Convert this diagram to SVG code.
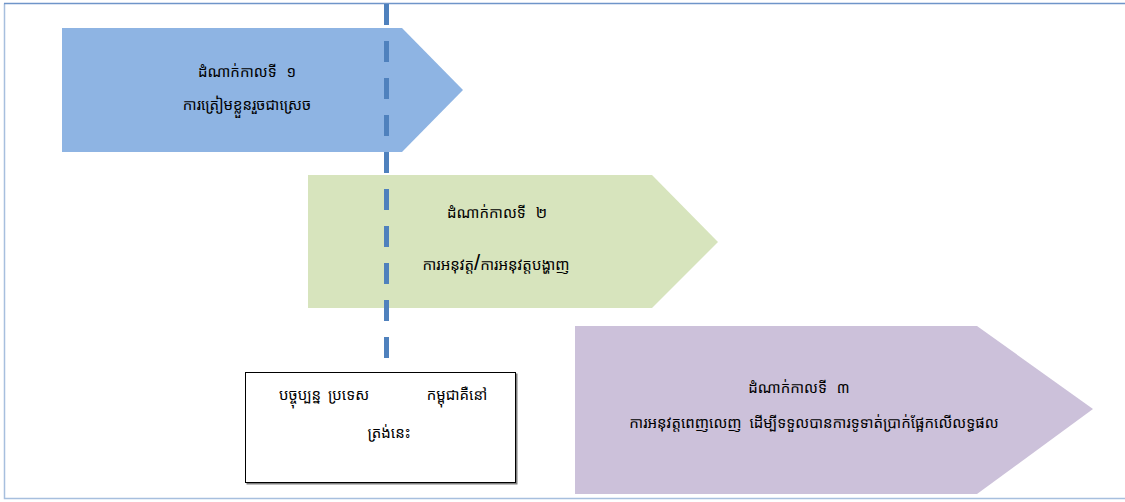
<svg xmlns="http://www.w3.org/2000/svg" width="1125" height="502" viewBox="0 0 1125 502">
  <style>
    .lbl { font-family: "Khmer OS System", "Khmer OS", "Noto Sans Khmer", "Noto Serif Khmer", "Leelawadee UI", sans-serif; font-size: 15px; fill: #000000; text-anchor: middle; }
    .slash { font-family: "Liberation Sans", sans-serif; font-size: 22px; }
    .phase1 { fill: #8EB4E3; }
    .phase2 { fill: #D7E4BD; }
    .phase3 { fill: #CCC1DA; }
    .frame { fill: none; stroke: #A7BFDE; stroke-width: 1.5; }
    .frame-top { stroke: #6F95C9; stroke-width: 1.5; }
    .marker-line { stroke: #4F81BD; stroke-width: 5; stroke-dasharray: 21 16; }
    .note { fill: #FFFFFF; stroke: #000000; stroke-width: 1; }
  </style>

  <rect x="0" y="0" width="1125" height="502" fill="#FFFFFF"/>

  <!-- outer frame (open to the right) -->
  <path class="frame" d="M1125,498.5 H4.5 V3.5"/>
  <line class="frame-top" x1="4" y1="3.5" x2="1125" y2="3.5"/>

  <!-- phase 1 -->
  <g id="phase1">
    <polygon class="phase1" points="62,28 402,28 463,90 402,152 62,152"/>
    <text class="lbl" x="247" y="77">ដំណាក់កាលទី <tspan dx="6">១</tspan></text>
    <text class="lbl" x="247" y="110">ការត្រៀមខ្លួនរួចជាស្រេច</text>
  </g>

  <!-- phase 2 -->
  <g id="phase2">
    <polygon class="phase2" points="308,175 652,175 718,242 652,308 308,308"/>
    <text class="lbl" x="497" y="218">ដំណាក់កាលទី <tspan dx="6">២</tspan></text>
    <text class="lbl" x="496" y="270">ការអនុវត្ត<tspan class="slash">/</tspan>ការអនុវត្តបង្ហាញ</text>
  </g>

  <!-- phase 3 -->
  <g id="phase3">
    <polygon class="phase3" points="575,326 977,326 1093,409 977,494 575,494"/>
    <text class="lbl" x="799" y="393">ដំណាក់កាលទី <tspan dx="6">៣</tspan></text>
    <text class="lbl" x="814" y="428">ការអនុវត្តពេញលេញ <tspan dx="4">ដើម្បីទទួលបានការទូទាត់ប្រាក់ផ្អែកលើលទ្ធផល</tspan></text>
  </g>

  <!-- current position marker -->
  <g id="connectors">
    <line class="marker-line" x1="386.5" y1="4" x2="386.5" y2="360"/>
  </g>

  <!-- note box -->
  <g id="note">
    <rect x="246.5" y="373.5" width="271" height="111" fill="#7F7F7F"/>
    <rect class="note" x="245.5" y="372.5" width="270" height="110"/>
    <text class="lbl" x="324" y="400">បច្ចុប្បន្ន <tspan dx="3">ប្រទេស</tspan></text>
    <text class="lbl" x="457" y="400">កម្ពុជាគឺនៅ</text>
    <text class="lbl" x="389" y="438">ត្រង់នេះ</text>
  </g>
</svg>
